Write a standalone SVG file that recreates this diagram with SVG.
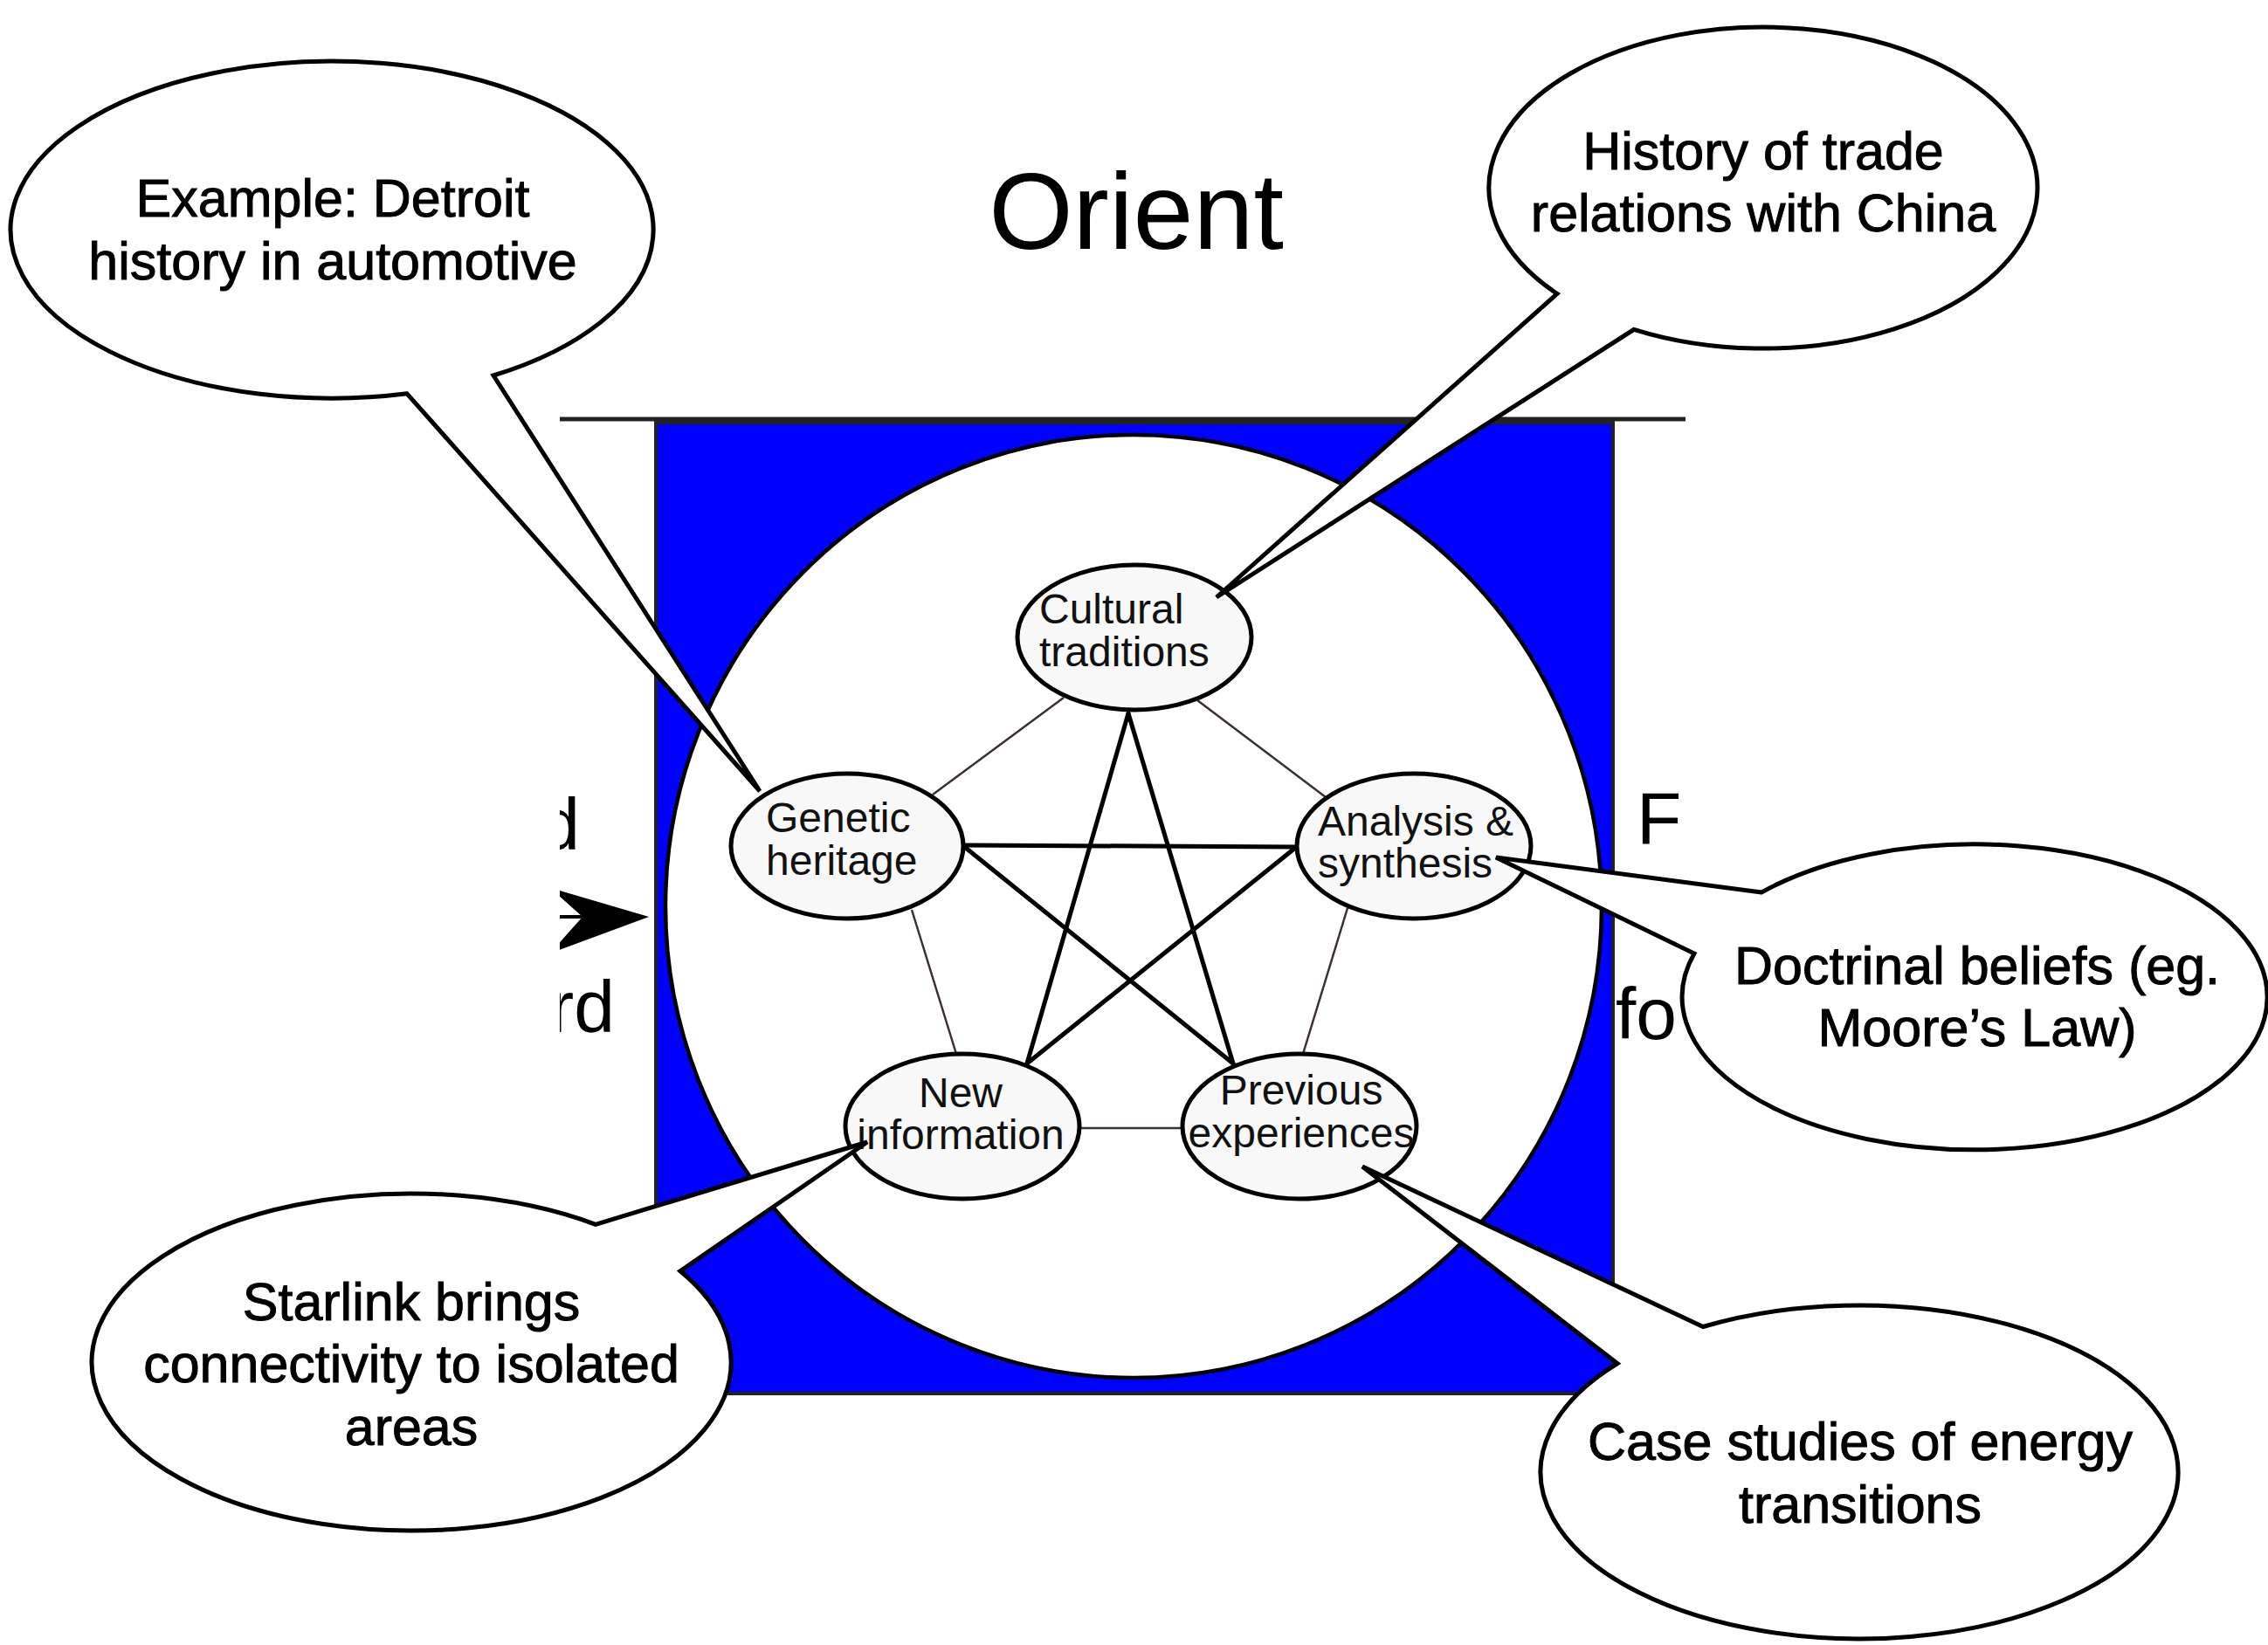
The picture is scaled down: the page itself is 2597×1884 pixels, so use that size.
<svg xmlns="http://www.w3.org/2000/svg" width="2597" height="1884" viewBox="0 0 2597 1884">
<style>
.lbl{font-family:"Liberation Sans",Arial,sans-serif;fill:#000}
.node{fill:#f8f8f8;stroke:#000;stroke-width:5}
.nt{font-family:"Liberation Sans",Arial,sans-serif;font-size:48px;fill:#111}
.thin{stroke:#3b2f2f;stroke-width:2.5;fill:none}
.thick{stroke:#000;stroke-width:5;fill:none;stroke-linecap:round}
.bubble{fill:#fff;stroke:#000;stroke-width:5;stroke-linejoin:miter;stroke-miterlimit:4}
.bt{font-family:"Liberation Sans",Arial,sans-serif;font-size:61px;fill:#000;stroke:#000;stroke-width:1;text-anchor:middle}
</style>
<defs>
<clipPath id="frame"><rect x="641" y="470" width="1289" height="1200"/></clipPath>
</defs>
<rect width="2597" height="1884" fill="#fff"/>
<text class="lbl" x="1301" y="285" font-size="124" text-anchor="middle">Orient</text>
<g id="frame-bg" clip-path="url(#frame)">
<line x1="641" y1="480" x2="1930" y2="480" stroke="#222" stroke-width="5"/>
<rect x="751" y="484" width="1096" height="1112" fill="#0000ff" stroke="#222" stroke-width="4"/>
<ellipse cx="1298" cy="1038" rx="536" ry="540" fill="#fff" stroke="#000" stroke-width="4.5"/>
<text class="lbl" x="664" y="973" font-size="84" text-anchor="end">d</text>
<text class="lbl" x="704" y="1182" font-size="84" text-anchor="end">rd</text>
<line x1="625" y1="1050" x2="670" y2="1050" stroke="#000" stroke-width="4"/>
<polygon points="743,1050 630,1016.8 667,1050 630,1091.7" fill="#000"/>
<text class="lbl" x="1874" y="966" font-size="84">F</text>
<text class="lbl" x="1850" y="1190" font-size="84">fo</text>
</g>
<g id="connectors">
<line class="thin" x1="1218" y1="799" x2="1068" y2="910"/>
<line class="thin" x1="1371" y1="802" x2="1518" y2="913"/>
<line class="thin" x1="1044" y1="1042" x2="1095" y2="1207"/>
<line class="thin" x1="1543" y1="1040" x2="1492" y2="1207"/>
<line class="thin" x1="1236" y1="1292" x2="1355" y2="1292"/>
<line class="thick" x1="1292" y1="817" x2="1176" y2="1218"/>
<line class="thick" x1="1292" y1="817" x2="1412" y2="1218"/>
<line class="thick" x1="1105" y1="968" x2="1484" y2="970"/>
<line class="thick" x1="1107" y1="972" x2="1412" y2="1218"/>
<line class="thick" x1="1482" y1="972" x2="1176" y2="1218"/>
</g>
<g id="node-cultural">
<ellipse class="node" cx="1299" cy="730" rx="134" ry="83"/>
<text class="nt" x="1190" y="714">Cultural</text>
<text class="nt" x="1190" y="763">traditions</text>
</g>
<g id="node-genetic">
<ellipse class="node" cx="970" cy="969" rx="133" ry="83"/>
<text class="nt" x="877" y="953">Genetic</text>
<text class="nt" x="877" y="1002">heritage</text>
</g>
<g id="node-analysis">
<ellipse class="node" cx="1619" cy="969" rx="134" ry="83"/>
<text class="nt" x="1509" y="957">Analysis &amp;</text>
<text class="nt" x="1509" y="1005">synthesis</text>
</g>
<g id="node-new">
<ellipse class="node" cx="1102" cy="1290" rx="134" ry="83"/>
<text class="nt" x="1100" y="1268" text-anchor="middle" font-size="46">New</text>
<text class="nt" x="1100" y="1316" text-anchor="middle" font-size="46">information</text>
</g>
<g id="node-previous">
<ellipse class="node" cx="1488" cy="1290" rx="134" ry="83"/>
<text class="nt" x="1490" y="1265" text-anchor="middle" font-size="40">Previous</text>
<text class="nt" x="1490" y="1314" text-anchor="middle" font-size="40">experiences</text>
</g>
<g id="callout-detroit">
<path class="bubble" d="M466,450.8 L870,906 L565,430 A368 193 0 1 0 466,450.8 Z"/>
<text class="bt" x="381" y="248">Example: Detroit</text>
<text class="bt" x="381" y="320">history in automotive</text>
</g>
<g id="callout-china">
<path class="bubble" d="M1783,336.4 L1393,684 L1871,377.3 A314 184 0 1 0 1783,336.4 Z"/>
<text class="bt" x="2019" y="194">History of trade</text>
<text class="bt" x="2019" y="265">relations with China</text>
</g>
<g id="callout-doctrinal">
<path class="bubble" d="M2017,1022 L1713,982 L1940,1092 A335 175 0 1 0 2017,1022 Z"/>
<text class="bt" x="2264" y="1127">Doctrinal beliefs (eg.</text>
<text class="bt" x="2264" y="1198">Moore’s Law)</text>
</g>
<g id="callout-starlink">
<path class="bubble" d="M682,1402.3 L993,1308 L779,1455.7 A366 193 0 1 1 682,1402.3 Z"/>
<text class="bt" x="471" y="1512">Starlink brings</text>
<text class="bt" x="471" y="1583">connectivity to isolated</text>
<text class="bt" x="471" y="1655">areas</text>
</g>
<g id="callout-case">
<path class="bubble" d="M1950,1519.5 L1560,1336 L1852,1561.6 A365 191 0 1 0 1950,1519.5 Z"/>
<text class="bt" x="2130" y="1672">Case studies of energy</text>
<text class="bt" x="2130" y="1744">transitions</text>
</g>
</svg>
